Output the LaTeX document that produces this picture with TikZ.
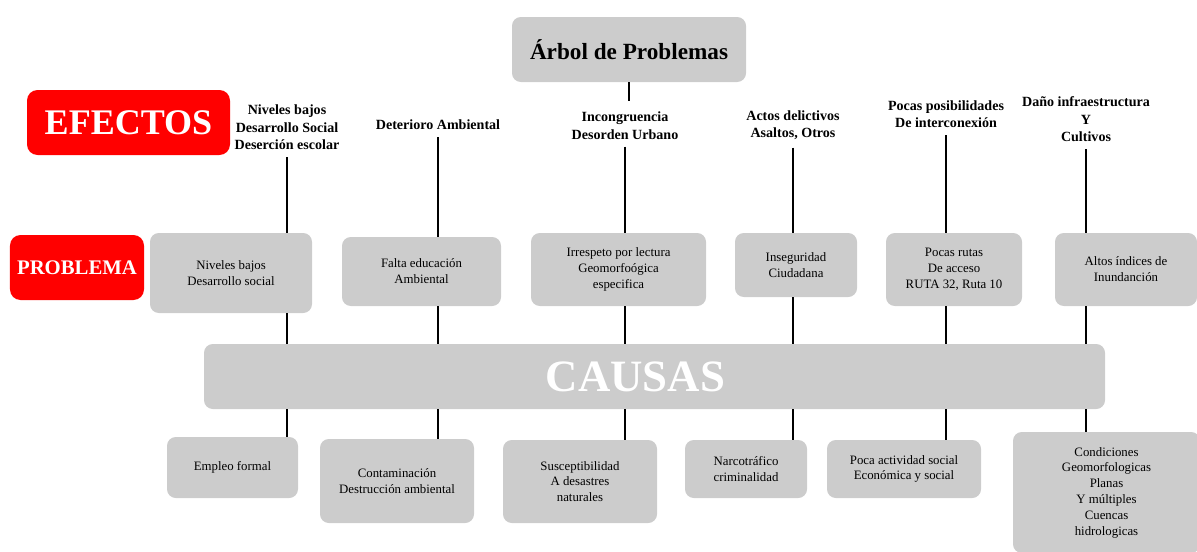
\documentclass[tikz,border=0pt]{standalone}
\usepackage{fontspec}
\setmainfont{Liberation Serif}
\usepackage{tikz}
\definecolor{treegray}{HTML}{CCCCCC}
\definecolor{treered}{HTML}{FF0000}
\tikzset{
  graybox/.style={fill=treegray,rounded corners=5pt,inner sep=2pt,align=center,font=\fontsize{7.3}{9}\selectfont},
  redbox/.style={fill=treered,rounded corners=6pt,inner sep=2pt,text=white},
  effnode/.style={align=center,inner sep=4pt,font=\fontsize{8}{9.9}\selectfont\bfseries},
  stem/.style={line width=1.3pt,black},
}

\begin{document}
\begin{tikzpicture}
  \useasboundingbox (0,0) rectangle (23.94,-11.02);
  % title and side labels
  \node[graybox,minimum width=4.68cm,minimum height=1.30cm,font=\fontsize{13.2}{15}\selectfont\bfseries] (nTitle) at (12.58,-0.99) {Árbol de Problemas};
  \coordinate (nStub) at (12.58,-2.02);
  \node[redbox,minimum width=4.06cm,minimum height=1.30cm,font=\fontsize{20.5}{23}\selectfont\bfseries] (nEfectos) at (2.57,-2.45) {EFECTOS};
  \node[redbox,minimum width=2.68cm,minimum height=1.30cm,font=\fontsize{11.8}{14}\selectfont\bfseries] (nProblema) at (1.54,-5.35) {PROBLEMA};
  % efectos
  \node[effnode] (nE1) at (5.74,-2.55) {Niveles bajos\\Desarrollo Social\\Deserción escolar};
  \node[effnode] (nE2) at (8.76,-2.50) {Deterioro Ambiental};
  \node[effnode] (nE3) at (12.50,-2.51) {Incongruencia\\Desorden Urbano};
  \node[effnode] (nE4) at (15.86,-2.51) {Actos delictivos\\Asaltos, Otros};
  \node[effnode] (nE5) at (18.92,-2.28) {Pocas posibilidades\\De interconexión};
  \node[effnode] (nE6) at (21.72,-2.39) {Daño infraestructura\\Y\\Cultivos};
  % problemas
  \node[graybox,minimum width=3.24cm,minimum height=1.60cm] (nP1) at (4.62,-5.46) {Niveles bajos\\Desarrollo social};
  \node[graybox,minimum width=3.18cm,minimum height=1.38cm] (nP2) at (8.43,-5.43) {Falta educación\\Ambiental};
  \node[graybox,minimum width=3.50cm,minimum height=1.46cm] (nP3) at (12.37,-5.39) {Irrespeto por lectura\\Geomorfoógica\\especifica};
  \node[graybox,minimum width=2.44cm,minimum height=1.28cm] (nP4) at (15.92,-5.30) {Inseguridad\\Ciudadana};
  \node[graybox,minimum width=2.72cm,minimum height=1.46cm] (nP5) at (19.08,-5.39) {Pocas rutas\\De acceso\\RUTA 32, Ruta 10};
  \node[graybox,minimum width=2.84cm,minimum height=1.46cm] (nP6) at (22.52,-5.39) {Altos índices de\\Inundanción};
  % causas
  \node[graybox,minimum width=18.02cm,minimum height=1.30cm,
    label={[text=white,font=\fontsize{25.5}{30}\selectfont\bfseries,xshift=-0.38cm]center:CAUSAS}] (nCausas) at (13.09,-7.53) {};
  \node[graybox,minimum width=2.62cm,minimum height=1.22cm] (nC1) at (4.65,-9.35) {Empleo formal};
  \node[graybox,minimum width=3.08cm,minimum height=1.68cm] (nC2) at (7.94,-9.62) {Contaminación\\Destrucción ambiental};
  \node[graybox,minimum width=3.08cm,minimum height=1.66cm] (nC3) at (11.60,-9.63) {Susceptibilidad\\A desastres\\naturales};
  \node[graybox,minimum width=2.44cm,minimum height=1.16cm] (nC4) at (14.92,-9.38) {Narcotráfico\\criminalidad};
  \node[graybox,minimum width=3.08cm,minimum height=1.16cm] (nC5) at (18.08,-9.38) {Poca actividad social\\Económica y social};
  \node[graybox,minimum width=3.74cm,minimum height=2.42cm] (nC6) at (22.13,-9.85) {Condiciones\\Geomorfologicas\\Planas\\Y múltiples\\Cuencas\\hidrologicas};
  % stems
  \draw[stem] (nTitle) -- (nStub);
  \draw[stem] (nE1.south) -- (nE1 |- nP1.north);
  \draw[stem] (nE2.south) -- (nE2 |- nP2.north);
  \draw[stem] (nE3.south) -- (nE3 |- nP3.north);
  \draw[stem] (nE4.south) -- (nE4 |- nP4.north);
  \draw[stem] (nE5.south) -- (nE5 |- nP5.north);
  \draw[stem] (nE6.south) -- (nE6 |- nP6.north);
  \draw[stem] (nE1 |- nP1.south) -- (nE1 |- nCausas.north);
  \draw[stem] (nE2 |- nP2.south) -- (nE2 |- nCausas.north);
  \draw[stem] (nE3 |- nP3.south) -- (nE3 |- nCausas.north);
  \draw[stem] (nE4 |- nP4.south) -- (nE4 |- nCausas.north);
  \draw[stem] (nE5 |- nP5.south) -- (nE5 |- nCausas.north);
  \draw[stem] (nE6 |- nP6.south) -- (nE6 |- nCausas.north);
  \draw[stem] (nE1 |- nCausas.south) -- (nE1 |- nC1.north);
  \draw[stem] (nE2 |- nCausas.south) -- (nE2 |- nC2.north);
  \draw[stem] (nE3 |- nCausas.south) -- (nE3 |- nC3.north);
  \draw[stem] (nE4 |- nCausas.south) -- (nE4 |- nC4.north);
  \draw[stem] (nE5 |- nCausas.south) -- (nE5 |- nC5.north);
  \draw[stem] (nE6 |- nCausas.south) -- (nE6 |- nC6.north);
\end{tikzpicture}
\end{document}
